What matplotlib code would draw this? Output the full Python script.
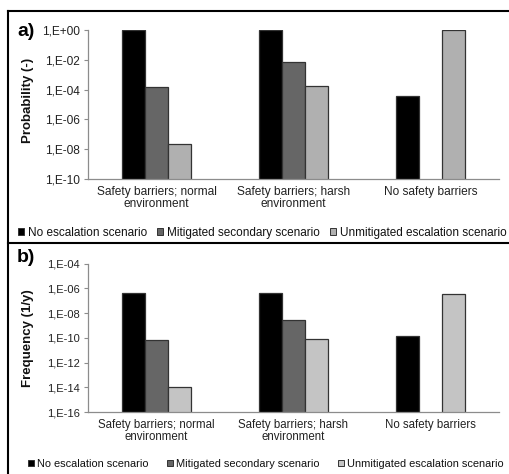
import numpy as np
import matplotlib
matplotlib.use("Agg")
import matplotlib.pyplot as plt
from matplotlib.patches import Patch
from matplotlib.lines import Line2D
from matplotlib.ticker import FixedLocator, FuncFormatter, NullLocator

plt.rcParams['font.family'] = ['Liberation Sans', 'DejaVu Sans']

categories = ["Safety barriers; normal\nenvironment",
              "Safety barriers; harsh\nenvironment",
              "No safety barriers"]
series = ["No escalation scenario", "Mitigated secondary scenario",
          "Unmitigated escalation scenario"]

prob_no_esc = [1.0, 1.0, 3.8e-5]
prob_mitigated = [1.5e-4, 7e-3, np.nan]
prob_unmitigated = [2.3e-8, 1.7e-4, 1.0]

freq_no_esc = [4.5e-7, 4.5e-7, 1.3e-10]
freq_mitigated = [6.6e-11, 3e-9, np.nan]
freq_unmitigated = [1.05e-14, 7.5e-11, 3.7e-7]

W, H = 510, 474


def fx(x):
    return x / W


def fy(y):
    return 1 - y / H


def sci_label(v, pos):
    e = int(round(np.log10(v)))
    return "1,E%+03d" % e


def draw_panel(ax, values, colors, ymin, ymax, tick_size, cat_size):
    x = np.arange(len(categories))
    w = 1 / 6
    for i, vals in enumerate(values):
        ax.bar(x + (i - 1) * w, vals, width=w, color=colors[i],
               edgecolor='#333333', linewidth=0.9, zorder=2)
    ax.set_yscale('log')
    ax.set_ylim(ymin, ymax)
    ax.set_xlim(-0.5, len(categories) - 0.5)
    exps = np.arange(np.log10(ymin), np.log10(ymax) + 1, 2)
    ax.yaxis.set_major_locator(FixedLocator(10.0 ** exps))
    ax.yaxis.set_minor_locator(NullLocator())
    ax.yaxis.set_major_formatter(FuncFormatter(sci_label))
    ax.set_xticks(x)
    ax.set_xticklabels(categories, linespacing=1.0)
    for s in ['top', 'right']:
        ax.spines[s].set_visible(False)
    for s in ['left', 'bottom']:
        ax.spines[s].set_color('#8c8c8c')
        ax.spines[s].set_linewidth(0.9)
    ax.tick_params(axis='y', length=3, width=0.8, color='#8c8c8c',
                   labelsize=tick_size, labelcolor='#222222', pad=3)
    ax.tick_params(axis='x', length=0, labelsize=cat_size,
                   labelcolor='#222222', pad=5)


def draw_legend(fig, colors, xs, y, size):
    for lab, c, x0 in zip(series, colors, xs):
        h = Patch(facecolor=c, edgecolor='#333333', linewidth=0.7)
        fig.legend(handles=[h], labels=[lab], loc='center left',
                   bbox_to_anchor=(fx(x0), fy(y)), frameon=False,
                   borderpad=0, borderaxespad=0, handlelength=0.55,
                   handleheight=0.55, handletextpad=0.3, fontsize=size,
                   labelcolor='#111111')


fig = plt.figure(figsize=(W / 100, H / 100), dpi=100)

# panel a
ax1 = fig.add_axes([fx(88), fy(179), 411 / W, 149 / H])
colors_a = ['#000000', '#666666', '#b0b0b0']
draw_panel(ax1, [prob_no_esc, prob_mitigated, prob_unmitigated],
           colors_a, 1e-10, 1, 8.6, 8.6)
fig.text(fx(28), fy(100), "Probability (-)", rotation=90, ha='center',
         va='center', fontsize=9.5, fontweight='bold', color='#111111')
fig.text(fx(17), fy(32), "a)", ha='left', va='center', fontsize=14,
         fontweight='bold')
draw_legend(fig, colors_a, [18, 157, 330], 233, 8.5)

# panel b
ax2 = fig.add_axes([fx(88), fy(412), 411 / W, 148.3 / H])
colors_b = ['#000000', '#666666', '#c4c4c4']
draw_panel(ax2, [freq_no_esc, freq_mitigated, freq_unmitigated],
           colors_b, 1e-16, 1e-4, 8.0, 8.3)
fig.text(fx(28), fy(338), "Frequency (1/y)", rotation=90, ha='center',
         va='center', fontsize=9.5, fontweight='bold', color='#111111')
fig.text(fx(17), fy(257), "b)", ha='left', va='center', fontsize=14,
         fontweight='bold')
draw_legend(fig, colors_b, [28, 167, 338], 464, 7.9)

# panel frames
lw = 1.5
fig.add_artist(Line2D([fx(8), 1], [fy(11), fy(11)], color='black', lw=lw))
fig.add_artist(Line2D([fx(8), fx(8)], [fy(11), 0], color='black', lw=lw))
fig.add_artist(Line2D([fx(8), 1], [fy(243), fy(243)], color='black', lw=lw))

fig.savefig("out.png", dpi=100)
